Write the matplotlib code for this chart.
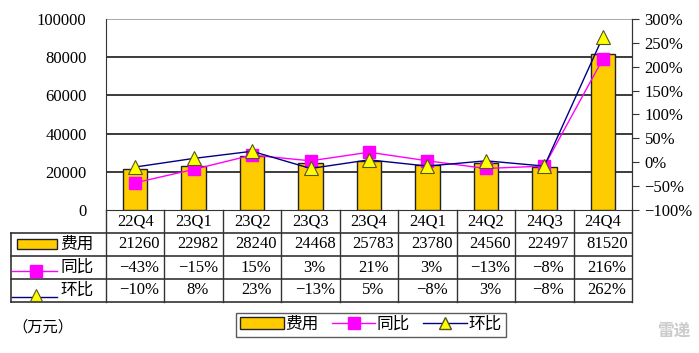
import matplotlib.pyplot as plt
import matplotlib.patches as mpatches
import matplotlib.lines as mlines
import numpy as np

plt.rcParams['font.family'] = ['Liberation Serif', 'Noto Sans CJK SC', 'DejaVu Sans']
plt.rcParams['axes.unicode_minus'] = True

quarters = ['22Q4', '23Q1', '23Q2', '23Q3', '23Q4', '24Q1', '24Q2', '24Q3', '24Q4']
cost = [21260, 22982, 28240, 24468, 25783, 23780, 24560, 22497, 81520]
yoy = [-43, -15, 15, 3, 21, 3, -13, -8, 216]
qoq = [-10, 8, 23, -13, 5, -8, 3, -8, 262]

BAR = '#FFCC00'
MAG = '#FF00FF'
NAVY = '#000080'
TRI = '#FFFF00'
FS = 12

def fmt(v):
    return ('\u2212' if v < 0 else '') + f'{abs(v)}%'

fig = plt.figure(figsize=(6.99, 3.53), dpi=100)
W, H = 699, 353
ax = fig.add_axes([106 / W, 1 - 210 / H, 526 / W, 191 / H])
x = np.arange(len(quarters))

ax.bar(x, cost, width=0.42, color=BAR, edgecolor='#222222', linewidth=1, zorder=3)
ax.set_xlim(-0.5, len(quarters) - 0.5)
ax.set_ylim(0, 100000)
ax.set_yticks(range(0, 100001, 20000))
ax.set_yticklabels([str(v) for v in range(0, 100001, 20000)], fontsize=FS)
ax.tick_params(axis='y', length=0, pad=14)
ax.set_xticks([])
for v in range(20000, 100000, 20000):
    ax.axhline(v, color='#1a1a1a', lw=1.2, zorder=1)
ax.axhline(100000, color='#999999', lw=1.2, zorder=1)
ax.spines['top'].set_visible(False)
ax.spines['left'].set_color('#333333')
ax.spines['right'].set_color('#333333')
ax.spines['bottom'].set_color('#333333')

ax2 = ax.twinx()
ax2.plot(x, yoy, color=MAG, lw=1, marker='s', markersize=9, markerfacecolor=MAG,
         markeredgecolor=MAG, zorder=4)
ax2.plot(x, qoq, color=NAVY, lw=1, marker='^', markersize=10, markerfacecolor=TRI,
         markeredgecolor='#555522', markeredgewidth=0.8, zorder=5)
ax2.set_ylim(-100, 300)
ax2.set_yticks(range(-100, 301, 50))
ax2.set_yticklabels([fmt(v) for v in range(-100, 301, 50)], fontsize=FS)
ax2.tick_params(axis='y', direction='out', length=5, color='#333333', pad=4)
for s in ['top', 'left', 'bottom']:
    ax2.spines[s].set_visible(False)
ax2.spines['right'].set_color('#333333')

# data table below the plot
label_w = 95 / (526 / 9)
tax = fig.add_axes([11 / W, 1 - 302 / H, 621 / W, 92 / H])
x0 = -0.5 - label_w
tax.set_xlim(x0, len(quarters) - 0.5)
tax.set_ylim(0, 4)
tax.axis('off')
lc = '#333333'
for yv in [0, 1, 2, 3]:
    tax.plot([x0, len(quarters) - 0.5], [yv, yv], color=lc, lw=1.2, clip_on=False)
tax.plot([x0, x0], [0, 3], color=lc, lw=1.2, clip_on=False)
for i in range(len(quarters) + 1):
    tax.plot([i - 0.5, i - 0.5], [0, 4], color=lc, lw=1, clip_on=False)

for i, q in enumerate(quarters):
    tax.text(i, 3.5, q, ha='center', va='center', fontsize=FS)
    tax.text(i + 0.07, 2.5, str(cost[i]), ha='center', va='center', fontsize=FS)
    tax.text(i + 0.07, 1.5, fmt(yoy[i]), ha='center', va='center', fontsize=FS)
    tax.text(i + 0.07, 0.5, fmt(qoq[i]), ha='center', va='center', fontsize=FS)

# row keys
px = 526 / 9
def xp(p):
    return x0 + (p - 11) / px
tax.add_patch(mpatches.Rectangle((xp(17), 2.3), (57 - 17) / px, 0.45, facecolor=BAR,
                                 edgecolor='#222222', lw=1))
tax.plot([xp(12), xp(57)], [1.35, 1.35], color=MAG, lw=1)
tax.plot([xp(36)], [1.35], marker='s', markersize=8, color=MAG)
tax.plot([xp(12), xp(57)], [0.2, 0.2], color=NAVY, lw=1)
tax.plot([xp(36)], [0.3], marker='^', markersize=9, markerfacecolor=TRI,
         markeredgecolor='#555522', markeredgewidth=0.8)
for yv, t in [(2.5, '费用'), (1.5, '同比'), (0.5, '环比')]:
    tax.text(xp(60), yv, t, ha='left', va='center', fontsize=FS)

# bottom legend
h1 = mpatches.Patch(facecolor=BAR, edgecolor='#222222', lw=1, label='费用')
h2 = mlines.Line2D([], [], color=MAG, lw=1, marker='s', markersize=8, label='同比')
h3 = mlines.Line2D([], [], color=NAVY, lw=1, marker='^', markersize=9,
                   markerfacecolor=TRI, markeredgecolor='#555522', label='环比')
leg = fig.legend(handles=[h1, h2, h3], ncol=3, loc='center',
                 bbox_to_anchor=(371 / W, 1 - 325 / H), fontsize=FS, frameon=True,
                 fancybox=False, edgecolor='#333333', handlelength=2.6,
                 handletextpad=0.1, columnspacing=0.8, borderpad=0.25)
leg.get_frame().set_linewidth(1)

fig.text(12 / W, 1 - 327 / H, '（万元）', fontsize=11, ha='left', va='center')
fig.text(690 / W, 1 - 332 / H, '雷递', fontsize=12, ha='right', va='center',
         color='#cccccc', fontweight='bold')

fig.savefig('out.png', dpi=100)
